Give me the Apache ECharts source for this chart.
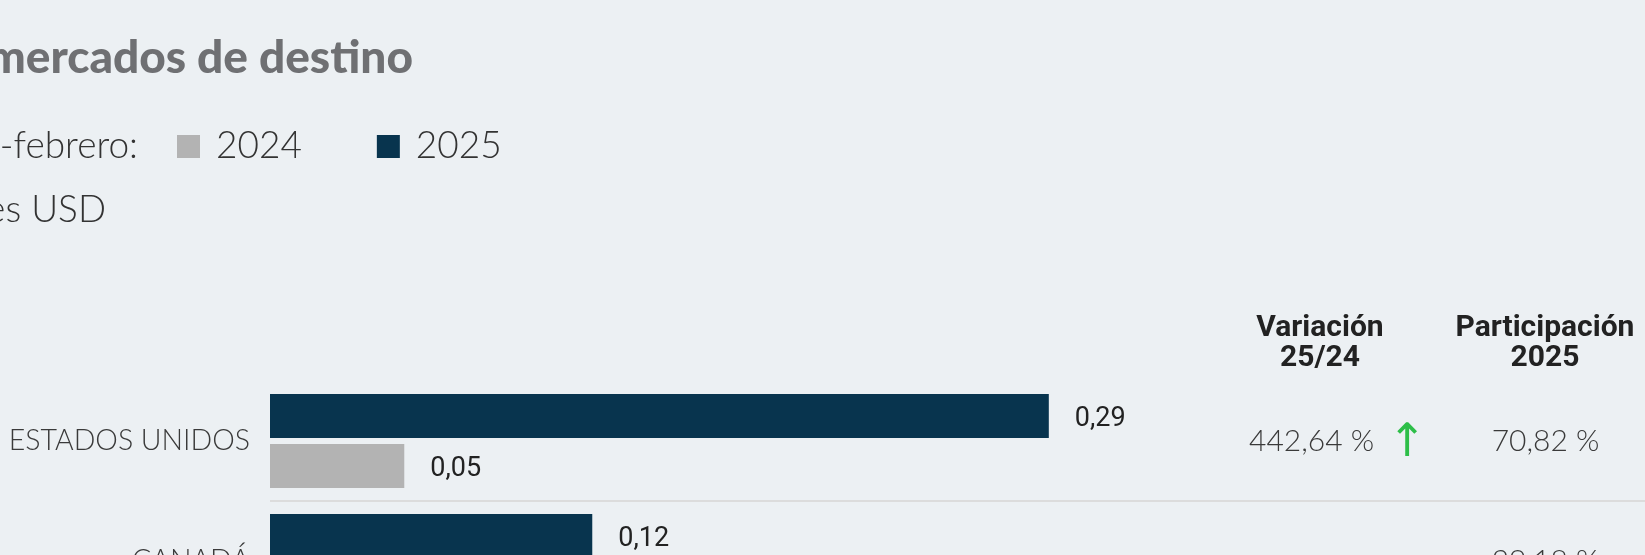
<!DOCTYPE html>
<html>
<head>
<meta charset="utf-8">
<script src="https://cdn.jsdelivr.net/npm/echarts@6/dist/echarts.min.js"></script>
<style>
html,body{margin:0;padding:0;background:#ECF0F3;}
#c{width:1645px;height:555px;}
</style>
</head>
<body>
<div id="c"></div>
<script>
// ---- data ----
const categories = ['ESTADOS UNIDOS', 'CANADÁ'];
const values2024 = [0.05, null];
const values2025 = [0.29, 0.12];
const variation = [442.64, null];
const share2025 = [70.82, 29.18];
const legendNames = ['2024', '2025'];
const titleText = 'mercados de destino';
const periodText = '-febrero:';
const unitText = 'es USD';
const headerVariation = 'Variación\n25/24';
const headerShare = 'Participación\n2025';

// ---- styles ----
const COLOR_2024 = '#B3B3B3';
const COLOR_2025 = '#08344E';
const fmtNum = v => v.toFixed(2).replace('.', ',');
const fmtPct = v => fmtNum(v) + ' %';

const chart = echarts.init(document.getElementById('c'));

const barLabel = {
  show: true,
  position: 'right',
  distance: 26,
  offset: [0, 3],
  fontFamily: 'Roboto',
  fontSize: 27,
  color: '#222',
  formatter: p => (p.value == null ? '' : fmtNum(p.value))
};

chart.setOption({
  backgroundColor: '#ECF0F3',
  animation: false,
  grid: { left: 270, right: 0, top: 381, height: 240, containLabel: false, outerBoundsMode: 'none' },
  legend: {
    data: legendNames,
    left: 177,
    top: 124,
    padding: 0,
    icon: 'rect',
    itemWidth: 23,
    itemHeight: 23,
    itemGap: 75,
    textStyle: { fontFamily: 'Lato', fontWeight: 300, fontSize: 37, color: '#333', padding: [8, 0, 0, 11], lineHeight: 37 }
  },
  xAxis: { type: 'value', min: 0, max: 0.512, show: false },
  yAxis: [
    {
      type: 'category', data: categories, inverse: true,
      axisLine: { show: false }, axisTick: { show: false },
      axisLabel: { margin: 20, interval: 0, fontFamily: 'Lato', fontWeight: 300, fontSize: 28.5, color: '#3a3a3a' },
      splitLine: { show: true, lineStyle: { color: ['rgba(0,0,0,0)', '#DCDCDC'], width: 2 } }
    },
    {
      type: 'category', data: categories, inverse: true, position: 'right', offset: -396,
      axisLine: { show: false }, axisTick: { show: false }, splitLine: { show: false },
      axisLabel: {
        margin: 0, interval: 0, align: 'left',
        formatter: (val, i) => {
          const v = variation[i];
          if (v == null) return '';
          return '{v|' + fmtPct(v) + '}{a|' + (v >= 0 ? '↑' : '↓') + '}';
        },
        rich: {
          v: { fontFamily: 'Lato', fontWeight: 300, fontSize: 30, color: '#3a3a3a', verticalAlign: 'middle' },
          a: { fontFamily: "'DejaVu Sans ExtraLight', 'DejaVu Sans'", fontSize: 46, color: '#2DBE48', padding: [6, 0, 0, 14], verticalAlign: 'middle' }
        }
      }
    },
    {
      type: 'category', data: categories, inverse: true, position: 'right', offset: -99.5,
      axisLine: { show: false }, axisTick: { show: false }, splitLine: { show: false },
      axisLabel: {
        margin: 0, interval: 0, align: 'center',
        fontFamily: 'Lato', fontWeight: 300, fontSize: 30, color: '#3a3a3a',
        formatter: (val, i) => (share2025[i] == null ? '' : fmtPct(share2025[i]))
      }
    }
  ],
  series: [
    { name: '2025', type: 'bar', yAxisIndex: 0, data: values2025, barWidth: 44, barGap: '14%',
      itemStyle: { color: COLOR_2025 }, label: barLabel },
    { name: '2024', type: 'bar', yAxisIndex: 0, data: values2024, barWidth: 44, barGap: '14%',
      itemStyle: { color: COLOR_2024 }, label: barLabel }
  ],
  graphic: [
    { type: 'text', x: 413, y: 58, style: { text: titleText, fontFamily: 'Lato', fontWeight: 900, fontSize: 46, fill: '#6F7073', align: 'right', verticalAlign: 'middle' } },
    { type: 'text', x: 138, y: 146, style: { text: periodText, fontFamily: 'Lato', fontWeight: 300, fontSize: 37, fill: '#333', align: 'right', verticalAlign: 'middle' } },
    { type: 'text', x: 106, y: 210, style: { text: unitText, fontFamily: 'Lato', fontWeight: 300, fontSize: 37, fill: '#333', align: 'right', verticalAlign: 'middle' } },
    { type: 'text', x: 1320, y: 313, style: { text: headerVariation, fontFamily: 'Roboto', fontWeight: 'bold', fontSize: 30, lineHeight: 30, fill: '#222', align: 'center', verticalAlign: 'top' } },
    { type: 'text', x: 1545, y: 313, style: { text: headerShare, fontFamily: 'Roboto', fontWeight: 'bold', fontSize: 30, lineHeight: 30, fill: '#222', align: 'center', verticalAlign: 'top' } }
  ]
});
</script>
</body>
</html>
